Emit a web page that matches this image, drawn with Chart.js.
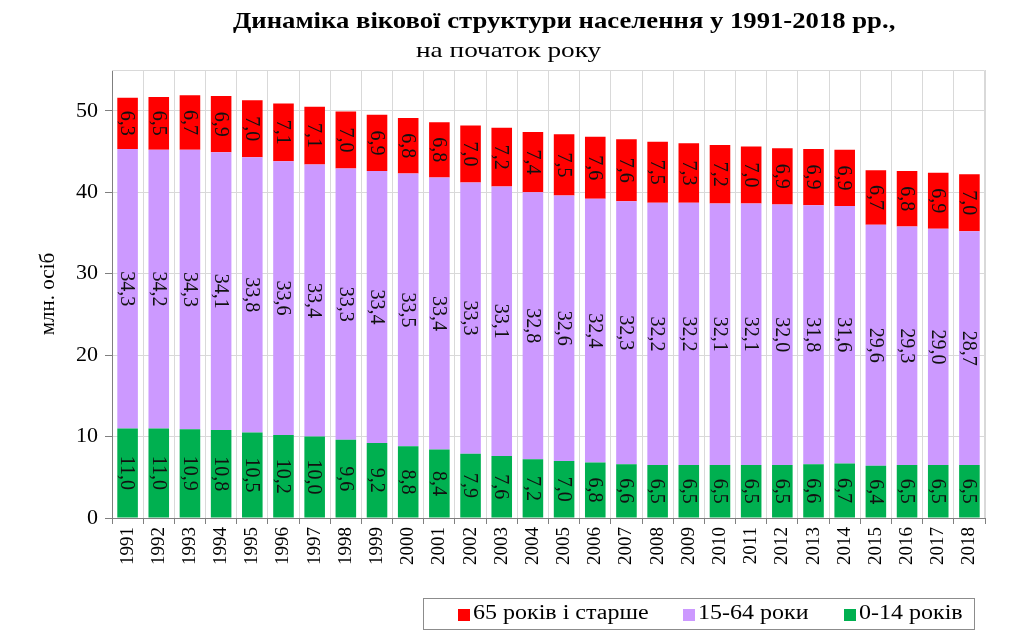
<!DOCTYPE html>
<html lang="uk">
<head>
  <meta charset="UTF-8">
  <title>Динаміка вікової структури населення</title>
  <script src="https://cdn.jsdelivr.net/npm/chart.js"></script>
  <style>
    html, body { margin: 0; padding: 0; background: #fff; }
    #wrap { position: relative; width: 1024px; height: 637px; font-family: "Liberation Serif", "Times New Roman", serif; }
    #chart { position: absolute; left: 0; top: 0; }
    .stretch { display: inline-block; transform-origin: 0 0; white-space: nowrap; }
    .title { position: absolute; left: 233px; top: 9px; font-size: 23px; line-height: 1; font-weight: bold; transform: scaleX(1.16); }
    .subtitle { position: absolute; left: 416px; top: 39px; font-size: 22px; line-height: 1; transform: scaleX(1.24); }
    #legend { position: absolute; left: 423px; top: 598px; width: 552px; height: 32px; border: 1px solid #8c8c8c; box-sizing: border-box; }
    #legend .item { position: absolute; top: 9px; height: 20px; }
    #legend .sw { position: absolute; left: 0; top: 1px; width: 12px; height: 12px; }
    #legend .txt { position: absolute; left: 15px; top: -6px; font-size: 20px; line-height: 1; transform: scaleX(1.2); }
  </style>
</head>
<body>
<div id="wrap">
  <canvas id="chart" width="1024" height="637"></canvas>
  <div class="stretch title">Динаміка вікової структури населення у 1991-2018 рр.,</div>
  <div class="stretch subtitle">на початок року</div>
  <div id="legend"></div>
</div>

<script>
  const years = ["1991","1992","1993","1994","1995","1996","1997","1998","1999","2000",
                 "2001","2002","2003","2004","2005","2006","2007","2008","2009","2010",
                 "2011","2012","2013","2014","2015","2016","2017","2018"];
  const age0to14 = [11.0,11.0,10.9,10.8,10.5,10.2,10.0,9.6,9.2,8.8,8.4,7.9,7.6,7.2,
                    7.0,6.8,6.6,6.5,6.5,6.5,6.5,6.5,6.6,6.7,6.4,6.5,6.5,6.5];
  const age15to64 = [34.3,34.2,34.3,34.1,33.8,33.6,33.4,33.3,33.4,33.5,33.4,33.3,33.1,32.8,
                     32.6,32.4,32.3,32.2,32.2,32.1,32.1,32.0,31.8,31.6,29.6,29.3,29.0,28.7];
  const age65plus = [6.3,6.5,6.7,6.9,7.0,7.1,7.1,7.0,6.9,6.8,6.8,7.0,7.2,7.4,
                     7.5,7.6,7.6,7.5,7.3,7.2,7.0,6.9,6.9,6.9,6.7,6.8,6.9,7.0];
  const yTicks = [0, 10, 20, 30, 40, 50];

  const colors = { young: "#00b050", mid: "#cc99ff", old: "#ff0000" };
  const fontName = "'Liberation Serif', 'Times New Roman', serif";

  // draws the value inside every bar segment, rotated like the original
  const segmentLabels = {
    id: "segmentLabels",
    afterDatasetsDraw(chart) {
      const ctx = chart.ctx;
      ctx.save();
      ctx.font = "20px " + fontName;
      ctx.fillStyle = "#111";
      ctx.textAlign = "center";
      ctx.textBaseline = "middle";
      chart.data.datasets.forEach((ds, di) => {
        chart.getDatasetMeta(di).data.forEach((bar, i) => {
          const cy = (bar.y + bar.base) / 2;
          ctx.save();
          ctx.translate(bar.x, cy);
          ctx.rotate(Math.PI / 2);
          ctx.fillText(ds.data[i].toFixed(1).replace(".", ","), 0, 1);
          ctx.restore();
        });
      });
      ctx.restore();
    }
  };

  // light frame round the plot area
  const plotFrame = {
    id: "plotFrame",
    beforeDatasetsDraw(chart) {
      const a = chart.chartArea, ctx = chart.ctx;
      ctx.save();
      ctx.strokeStyle = "#d9d9d9";
      ctx.lineWidth = 1;
      ctx.beginPath();
      ctx.moveTo(a.left, a.top + 0.5);
      ctx.lineTo(a.right - 0.5, a.top + 0.5);
      ctx.lineTo(a.right - 0.5, a.bottom);
      ctx.stroke();
      ctx.restore();
    }
  };

  const datasets = [
    { label: "0-14 років", data: age0to14, backgroundColor: colors.young },
    { label: "15-64 роки", data: age15to64, backgroundColor: colors.mid },
    { label: "65 років і старше", data: age65plus, backgroundColor: colors.old }
  ];

  new Chart(document.getElementById("chart"), {
    type: "bar",
    data: { labels: years, datasets: datasets },
    options: {
      responsive: false,
      animation: false,
      layout: { padding: { top: 70, right: 39, bottom: 59, left: 34 } },
      datasets: { bar: { barPercentage: 0.66, categoryPercentage: 1.0 } },
      plugins: { legend: { display: false }, tooltip: { enabled: false } },
      scales: {
        x: {
          stacked: true,
          afterFit(scale) { scale.height = 60; },
          grid: { offset: true, color: "#d9d9d9", tickColor: "#7f7f7f", tickLength: 6 },
          border: { color: "#7f7f7f" },
          ticks: { color: "#000", minRotation: 90, maxRotation: 90, autoSkip: false,
                   font: { family: fontName, size: 19 } }
        },
        y: {
          stacked: true,
          min: 0, max: 55,
          afterFit(scale) { scale.width = 78; },
          afterBuildTicks(scale) { scale.ticks = yTicks.map(v => ({ value: v })); },
          grid: { color: "#d9d9d9", tickColor: "#7f7f7f", tickLength: 7 },
          border: { color: "#7f7f7f" },
          ticks: { color: "#000", padding: 7, font: { family: fontName, size: 22 } },
          title: { display: true, text: "млн. осіб", color: "#000", padding: { top: 2, bottom: 0 },
                   font: { family: fontName, size: 21 } }
        }
      }
    },
    plugins: [plotFrame, segmentLabels]
  });

  // legend in the original order: oldest group first
  const legendX = [34, 259, 420];
  const legend = document.getElementById("legend");
  datasets.slice().reverse().forEach((ds, k) => {
    const item = document.createElement("div");
    item.className = "item";
    item.style.left = legendX[k] + "px";
    item.innerHTML = `<span class="sw" style="background:${ds.backgroundColor}"></span>` +
                     `<span class="txt stretch">${ds.label}</span>`;
    legend.appendChild(item);
  });
</script>
</body>
</html>
